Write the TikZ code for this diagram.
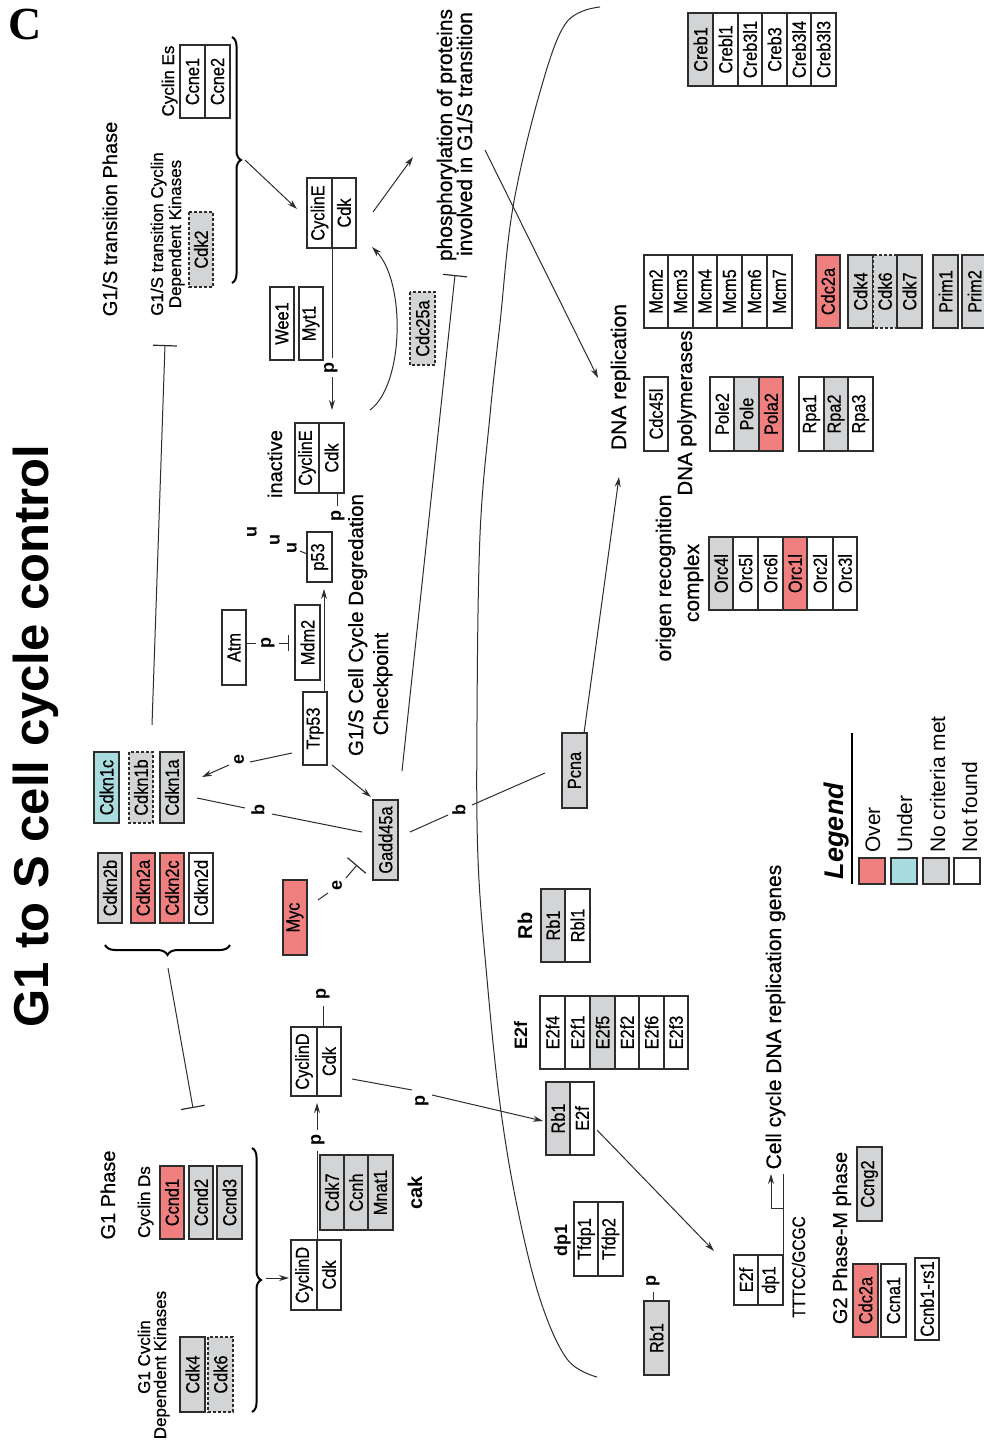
\documentclass[tikz,border=0pt]{standalone}
\usepackage{fontspec}
\setmainfont{Liberation Sans}
\newfontfamily\boxf[FakeStretch=0.86,FakeBold=0.5]{Liberation Sans}
\newfontfamily\lblf[FakeBold=0.6]{Liberation Sans}
\newfontfamily\serifb{Liberation Serif}
\usetikzlibrary{arrows.meta,decorations.pathreplacing}
\definecolor{ovc}{RGB}{240,128,128}
\definecolor{unc}{RGB}{168,220,222}
\definecolor{ncc}{RGB}{210,212,214}
\definecolor{edge}{RGB}{45,45,45}
\newcommand\fs[1]{\fontsize{#1}{#1}\selectfont}
\newcommand\gbox[7]{\node[gene,#6,minimum width={#5pt-#3pt},minimum height={#4pt-#2pt}] (#1) at ({(#2+#4)/2},{(#3+#5)/2}) {#7};}
\begin{document}
\begin{tikzpicture}[x=1pt,y=-1pt,
 gene/.style={draw=edge,line width=1.1pt,rotate=90,inner sep=0pt,font=\boxf\fs{19},text=black},
 nf/.style={fill=white}, nc/.style={fill=ncc}, ov/.style={fill=ovc}, un/.style={fill=unc},
 dsh/.style={dash pattern=on 3pt off 2pt},
 ln/.style={draw=edge,line width=1pt},
 brc/.style={draw=black,line width=2pt,decorate},
 arr/.style={ln,-{Stealth[length=10pt,width=6pt]}},
 inh/.style={ln,-{Bar[width=24pt,line width=1.2pt]}},
 inhs/.style={ln,-{Bar[width=16pt,line width=1.2pt]}},
 lbl/.style={rotate=90,anchor=base,inner sep=0pt,text=black},
 sl/.style={rotate=90,inner sep=0pt,font=\bfseries\fs{18}},
 legsq/.style={draw=edge,line width=2pt,minimum size=26pt,inner sep=0pt}
]
\useasboundingbox (0,0) rectangle (983,1442);
\fill[white] (0,0) rectangle (983,1442);

% ---------- connectors ----------
\draw[ln] plot[smooth,tension=0.6] coordinates {(600,7) (566,23) (540,92) (513,207) (500,323) (490,415) (480,535) (477,720) (478,859) (487,979) (500,1104) (517,1206) (540,1299) (567,1359) (597,1377)};
\draw[brc,decoration={brace,amplitude=9pt}] (232,37) -- (232,283);
\coordinate (bE) at (245,160);
\coordinate (bEend) at (297,209);
\draw[arr] (bE) -- (bEend);
\coordinate (cE1) at (373,212); \coordinate (ph1) at (413,157);
\draw[arr] (cE1) -- (ph1);
\draw[ln] (332,248) -- (332,358);
\draw[arr] (332,377) -- (332,410);
\draw[arr] (370,410) .. controls (404,385) and (406,282) .. (372,247);
\coordinate (chk) at (402,771); \coordinate (phT) at (455,275);
\draw[inh] (chk) -- (phT);
\coordinate (ph2) at (485,150); \coordinate (dnaR) at (598,378);
\draw[arr] (ph2) -- (dnaR);
\draw[inh] (152,725) -- (165,345);
\draw[brc,decoration={brace,amplitude=10pt}] (230,945) -- (105,945);
\draw[inh] (168,968) -- (193,1108);
\draw[brc,decoration={brace,amplitude=9pt}] (252,1148) -- (252,1412);
\draw[arr] (266,1278) -- (289,1278);
\draw[ln] (317,1240) -- (317,1151);
\draw[arr] (317,1130) -- (317,1103);
\draw[ln] (323,1027) -- (323,1006);
\draw[ln] (352,1079) -- (412,1090);
\draw[arr] (432,1095) -- (543,1121);
\draw[arr] (597,1130) -- (714,1251);
\draw[ln] (783,1255) -- (783,1174);
\draw[arr] (783,1208) -- (771,1208) -- (771,1174);
\draw[ln] (653,1301) -- (653,1292);
\draw[arr] (324,692) -- (324,589);
\draw[ln] (247,643) -- (256,643);
\draw[inhs] (279,643) -- (289,643);
\draw[ln] (292,753) -- (250,762);
\draw[arr] (229,765) -- (202,777);
\draw[arr] (332,765) -- (371,797);
\draw[ln] (362,832) -- (272,814);
\draw[ln] (245,808) -- (197,798);
\draw[ln] (410,832) -- (448,815);
\draw[ln] (472,805) -- (545,773);
\draw[ln] (318,900) -- (328,893);
\draw[inh] (346,878) -- (357,865);
\draw[arr] (584,733) -- (619,477);
\draw[ln] (300,551) -- (307,554);
\draw[ln] (337,493) -- (337,506);

% ---------- gene boxes ----------
\gbox{ccne1}{180}{45}{205}{118}{nf}{Ccne1}
\gbox{ccne2}{205}{45}{230}{118}{nf}{Ccne2}
\gbox{cdk2}{189}{212}{213}{287}{nc,dsh}{Cdk2}
\gbox{cyce}{307}{178}{332}{248}{nf}{CyclinE}
\gbox{cdke}{332}{178}{356}{248}{nf}{Cdk}
\gbox{wee1}{270}{287}{294}{360}{nf}{Wee1}
\gbox{myt1}{299}{287}{323}{360}{nf}{Myt1}
\gbox{cdc25a}{410}{292}{435}{365}{nc,dsh}{Cdc25a}
\gbox{icyce}{295}{423}{319}{493}{nf}{CyclinE}
\gbox{icdk}{319}{423}{344}{493}{nf}{Cdk}
\gbox{p53}{307}{532}{332}{582}{nf}{p53}
\gbox{atm}{222}{610}{246}{685}{nf}{Atm}
\gbox{mdm2}{295}{605}{320}{680}{nf}{Mdm2}
\gbox{trp53}{303}{692}{327}{765}{nf}{Trp53}
\gbox{gadd}{373}{800}{398}{880}{nc}{Gadd45a}
\gbox{pcna}{562}{733}{587}{808}{nc}{Pcna}
\gbox{myc}{283}{880}{307}{955}{ov}{Myc}
\gbox{cdkn1c}{94}{752}{119}{823}{un}{Cdkn1c}
\gbox{cdkn1b}{129}{752}{153}{823}{nc,dsh}{Cdkn1b}
\gbox{cdkn1a}{160}{752}{184}{823}{nc}{Cdkn1a}
\gbox{cdkn2b}{98}{853}{122}{923}{nc}{Cdkn2b}
\gbox{cdkn2a}{131}{853}{155}{923}{ov}{Cdkn2a}
\gbox{cdkn2c}{160}{853}{184}{923}{ov}{Cdkn2c}
\gbox{cdkn2d}{189}{853}{213}{923}{nf}{Cdkn2d}

\gbox{ccnd1}{160}{1166}{184}{1239}{ov}{Ccnd1}
\gbox{ccnd2}{189}{1166}{213}{1239}{nc}{Ccnd2}
\gbox{ccnd3}{217}{1166}{242}{1239}{nc}{Ccnd3}
\gbox{cdk4a}{180}{1337}{205}{1412}{nc}{Cdk4}
\gbox{cdk6a}{208}{1337}{233}{1412}{nc,dsh}{Cdk6}
\gbox{cycd1}{291}{1240}{317}{1310}{nf}{CyclinD}
\gbox{cdkd1}{317}{1240}{341}{1310}{nf}{Cdk}
\gbox{cycd2}{291}{1027}{317}{1096}{nf}{CyclinD}
\gbox{cdkd2}{317}{1027}{341}{1096}{nf}{Cdk}
\gbox{cdk7a}{320}{1155}{344}{1230}{nc}{Cdk7}
\gbox{ccnh}{344}{1155}{368}{1230}{nc}{Ccnh}
\gbox{mnat1}{368}{1155}{393}{1230}{nc}{Mnat1}

\gbox{rb1a}{546}{1082}{570}{1155}{nc}{Rb1}
\gbox{e2fa}{570}{1082}{594}{1155}{nf}{E2f}
\gbox{e2f4}{540}{996}{565}{1069}{nf}{E2f4}
\gbox{e2f1}{565}{996}{590}{1069}{nf}{E2f1}
\gbox{e2f5}{590}{996}{615}{1069}{nc}{E2f5}
\gbox{e2f2}{615}{996}{639}{1069}{nf}{E2f2}
\gbox{e2f6}{639}{996}{664}{1069}{nf}{E2f6}
\gbox{e2f3}{664}{996}{688}{1069}{nf}{E2f3}
\gbox{rb1b}{541}{889}{565}{962}{nc}{Rb1}
\gbox{rbl1}{565}{889}{590}{962}{nf}{Rbl1}
\gbox{tfdp1}{574}{1202}{598}{1276}{nf}{Tfdp1}
\gbox{tfdp2}{598}{1202}{623}{1276}{nf}{Tfdp2}
\gbox{rb1c}{644}{1301}{669}{1375}{nc}{Rb1}
\gbox{e2fb}{734}{1255}{758}{1305}{nf}{E2f}
\gbox{dp1b}{758}{1255}{783}{1305}{nf}{dp1}
\gbox{ccng2}{857}{1147}{882}{1221}{nc}{Ccng2}
\gbox{cdc2ab}{853}{1264}{878}{1337}{ov}{Cdc2a}
\gbox{ccna1}{881}{1264}{906}{1337}{nf}{Ccna1}
\gbox{ccnb1}{915}{1258}{939}{1340}{nf}{Ccnb1-rs1}

\gbox{creb1}{688}{13}{713}{86}{nc}{Creb1}
\gbox{crebl1}{713}{13}{738}{86}{nf}{Crebl1}
\gbox{creb3l1}{738}{13}{762}{86}{nf}{Creb3l1}
\gbox{creb3}{762}{13}{787}{86}{nf}{Creb3}
\gbox{creb3l4}{787}{13}{811}{86}{nf}{Creb3l4}
\gbox{creb3l3}{811}{13}{836}{86}{nf}{Creb3l3}
\gbox{mcm2}{644}{255}{668}{328}{nf}{Mcm2}
\gbox{mcm3}{668}{255}{693}{328}{nf}{Mcm3}
\gbox{mcm4}{693}{255}{717}{328}{nf}{Mcm4}
\gbox{mcm5}{717}{255}{742}{328}{nf}{Mcm5}
\gbox{mcm6}{742}{255}{767}{328}{nf}{Mcm6}
\gbox{mcm7}{767}{255}{792}{328}{nf}{Mcm7}
\gbox{cdc2a}{816}{255}{840}{328}{ov}{Cdc2a}
\gbox{cdk4b}{848}{255}{873}{328}{nc}{Cdk4}
\gbox{cdk6b}{873}{255}{897}{328}{nc,dsh}{Cdk6}
\gbox{cdk7b}{897}{255}{922}{328}{nc}{Cdk7}
\gbox{prim1}{933}{255}{958}{328}{nc}{Prim1}
\gbox{prim2}{962}{255}{987}{328}{nc}{Prim2}
\gbox{cdc45l}{644}{377}{668}{451}{nf}{Cdc45l}
\gbox{pole2}{710}{377}{734}{451}{nf}{Pole2}
\gbox{pole}{734}{377}{759}{451}{nc}{Pole}
\gbox{pola2}{759}{377}{783}{451}{ov}{Pola2}
\gbox{rpa1}{799}{377}{824}{451}{nf}{Rpa1}
\gbox{rpa2}{824}{377}{848}{451}{nc}{Rpa2}
\gbox{rpa3}{848}{377}{873}{451}{nf}{Rpa3}
\gbox{orc4l}{709}{537}{733}{610}{nc}{Orc4l}
\gbox{orc5l}{733}{537}{758}{610}{nf}{Orc5l}
\gbox{orc6l}{758}{537}{783}{610}{nf}{Orc6l}
\gbox{orc1l}{783}{537}{807}{610}{ov}{Orc1l}
\gbox{orc2l}{807}{537}{833}{610}{nf}{Orc2l}
\gbox{orc3l}{833}{537}{857}{610}{nf}{Orc3l}

% ---------- small letters ----------
\node[sl] (p1) at (331,368) {p};
\node[sl] (p2) at (338,516) {p};
\node[sl] (p3) at (268,643) {p};
\node[sl] (p4) at (318,1140) {p};
\node[sl] (p5) at (323,994) {p};
\node[sl] (p6) at (422,1101) {p};
\node[sl] (p7) at (653,1281) {p};
\node[sl] (e1) at (239,759) {e};
\node[sl] (e2) at (337,885) {e};
\node[sl] (b1) at (258,810) {b};
\node[sl] (b2) at (459,810) {b};
\node[sl] (u1) at (252,532) {u};
\node[sl] (u2) at (275,540) {u};
\node[sl] (u3) at (292,548) {u};

% ---------- labels ----------
\node[font=\serifb\bfseries\fs{46},inner sep=0pt] (C) at (25,24) {C};
\node[lbl,font=\bfseries\fs{49}] (title) at (48,736) {G1 to S cell cycle control};
\node[lbl,font=\lblf\fs{20}] (l1) at (117,219) {G1/S transition Phase};
\node[lbl,font=\lblf\fs{17}] (l2) at (174,81) {Cyclin Es};
\node[lbl,font=\lblf\fs{17}] (l3) at (163,234) {G1/S transition Cyclin};
\node[lbl,font=\lblf\fs{17}] (l4) at (181,234) {Dependent Kinases};
\node[lbl,font=\lblf\fs{21}] (l5) at (452,135) {phosphorylation of proteins};
\node[lbl,font=\lblf\fs{21}] (l6) at (472,134) {involved in G1/S transition};
\node[lbl,font=\lblf\fs{20}] (l7) at (282,464) {inactive};
\node[lbl,font=\lblf\fs{20.5}] (l8) at (363,625) {G1/S Cell Cycle Degredation};
\node[lbl,font=\lblf\fs{20.5}] (l9) at (388,684) {Checkpoint};
\node[lbl,font=\lblf\fs{21}] (l10) at (626,377) {DNA replication};
\node[lbl,font=\lblf\fs{20.5}] (l11) at (692,413) {DNA polymerases};
\node[lbl,font=\lblf\fs{21}] (l12) at (671,578) {origen recognition};
\node[lbl,font=\lblf\fs{21}] (l13) at (699,583) {complex};
\node[lbl,font=\bfseries\fs{20}] (l14) at (532,926) {Rb};
\node[lbl,font=\bfseries\fs{18}] (l15) at (527,1035) {E2f};
\node[lbl,font=\bfseries\fs{18}] (l16) at (567,1240) {dp1};
\node[lbl,font=\bfseries\fs{20}] (l17) at (422,1193) {cak};
\node[lbl,font=\lblf\fs{20}] (l18) at (115,1195) {G1 Phase};
\node[lbl,font=\lblf\fs{17}] (l19) at (150,1202) {Cyclin Ds};
\node[lbl,font=\lblf\fs{17}] (l20) at (150,1357) {G1 Cvclin};
\node[lbl,font=\lblf\fs{17}] (l21) at (166,1365) {Dependent Kinases};
\node[lbl,font=\boxf\fs{18}] (l22) at (805,1267) {TTTCC/GCGC};
\node[lbl,font=\lblf\fs{21}] (l23) at (781,1017) {Cell cycle DNA replication genes};
\node[lbl,font=\lblf\fs{20}] (l24) at (847,1238) {G2 Phase-M phase};

% ---------- legend ----------
\node[lbl,font=\bfseries\itshape\fs{27}] (leg) at (843,831) {Legend};
\draw[draw=black,line width=2.5pt] (852,733) -- (852,884);
\node[legsq,fill=ovc] (sq1) at (872,871) {};
\node[legsq,fill=unc] (sq2) at (903.5,871) {};
\node[legsq,fill=ncc] (sq3) at (935.5,871) {};
\node[legsq,fill=white] (sq4) at (967,871) {};
\node[rotate=90,anchor=base west,inner sep=0pt,font=\fs{21}] (t1) at (880,853) {Over};
\node[rotate=90,anchor=base west,inner sep=0pt,font=\fs{21}] (t2) at (912,853) {Under};
\node[rotate=90,anchor=base west,inner sep=0pt,font=\fs{21}] (t3) at (945,853) {No criteria met};
\node[rotate=90,anchor=base west,inner sep=0pt,font=\fs{21}] (t4) at (977,853) {Not found};
\end{tikzpicture}
\end{document}
